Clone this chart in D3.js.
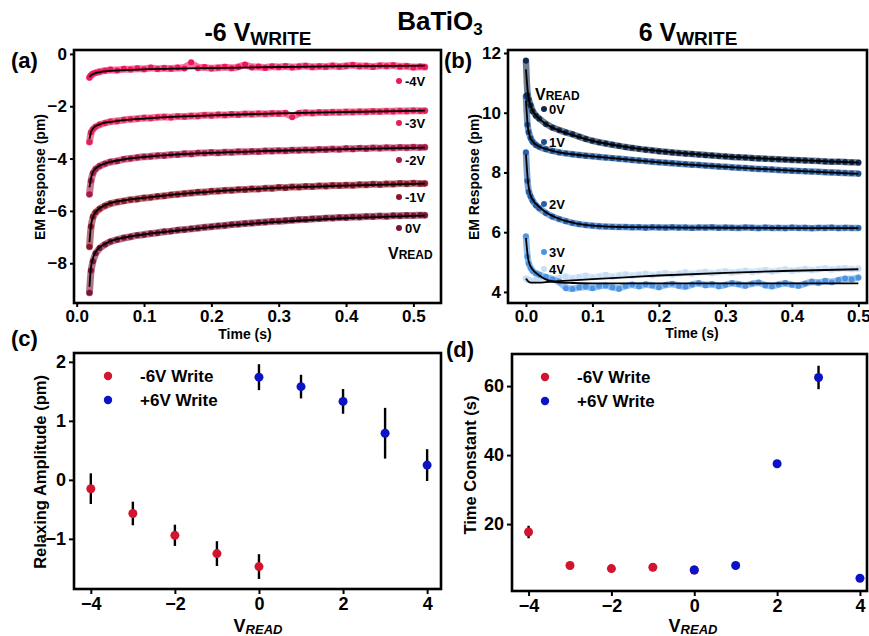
<!DOCTYPE html>
<html lang="en">
<head>
    <meta charset="utf8">
    <script type="text/javascript" src="https://d3js.org/d3.v7.min.js"></script>
    <title>BaTiO3 relaxation</title>
    <style>
        body { margin: 0; background: #fff; }
        text { font-family: "Liberation Sans", Arial, sans-serif; font-weight: bold; fill: #000; }
    </style>
</head>
<body>
<div class="fig"></div>
<script type="text/javascript">
// ---- data, panel (a): -6 V write ----
var tA = [0.019,0.021,0.024,0.028,0.034,0.042,0.05,0.06,0.07,0.08,0.09,0.10,0.11,0.12,0.13,0.14,0.15,0.16,0.17,0.18,0.19,0.20,
    0.21,0.22,0.23,0.24,0.25,0.26,0.27,0.28,0.29,0.30,0.31,0.32,0.33,0.34,0.35,0.36,0.37,0.38,0.39,0.40,0.41,0.42,0.43,0.44,0.45,
    0.46,0.47,0.48,0.49,0.50,0.51,0.517];
var aM4 = [-0.90,-0.82,-0.76,-0.72,-0.68,-0.64,-0.60,-0.63,-0.57,-0.60,-0.55,-0.59,-0.52,-0.58,-0.54,-0.57,-0.52,-0.56,-0.32,-0.55,-0.50,-0.56,
    -0.53,-0.49,-0.55,-0.50,-0.40,-0.52,-0.48,-0.54,-0.47,-0.51,-0.46,-0.52,-0.48,-0.45,-0.51,-0.47,-0.50,-0.44,-0.49,-0.46,-0.42,-0.48,-0.45,-0.50,-0.44,
    -0.47,-0.43,-0.49,-0.46,-0.52,-0.48,-0.50];
var aM3 = [-3.37,-3.00,-2.88,-2.78,-2.70,-2.64,-2.58,-2.57,-2.52,-2.50,-2.48,-2.44,-2.46,-2.42,-2.40,-2.43,-2.38,-2.40,-2.36,-2.38,-2.33,-2.36,
    -2.32,-2.34,-2.30,-2.33,-2.29,-2.31,-2.28,-2.30,-2.27,-2.29,-2.25,-2.42,-2.26,-2.24,-2.27,-2.23,-2.25,-2.22,-2.24,-2.21,-2.23,-2.20,-2.22,-2.19,-2.21,
    -2.18,-2.20,-2.17,-2.19,-2.16,-2.18,-2.17];
var aM2 = [-5.36,-4.85,-4.55,-4.40,-4.28,-4.20,-4.12,-4.10,-4.02,-4.00,-3.96,-3.93,-3.92,-3.88,-3.89,-3.84,-3.85,-3.81,-3.83,-3.78,-3.80,-3.76,
    -3.79,-3.75,-3.77,-3.73,-3.75,-3.72,-3.74,-3.70,-3.72,-3.69,-3.71,-3.67,-3.69,-3.66,-3.68,-3.64,-3.66,-3.63,-3.65,-3.61,-3.64,-3.60,-3.62,-3.59,-3.61,
    -3.58,-3.60,-3.57,-3.59,-3.56,-3.58,-3.57];
var aM1 = [-7.37,-6.60,-6.22,-6.05,-5.92,-5.80,-5.72,-5.66,-5.62,-5.57,-5.55,-5.50,-5.49,-5.44,-5.43,-5.38,-5.37,-5.33,-5.32,-5.28,-5.29,-5.24,
    -5.25,-5.21,-5.22,-5.18,-5.19,-5.15,-5.17,-5.13,-5.14,-5.10,-5.12,-5.08,-5.10,-5.06,-5.08,-5.04,-5.06,-5.02,-5.04,-5.01,-5.03,-4.99,-5.01,-4.97,-5.00,
    -4.96,-4.98,-4.94,-4.97,-4.93,-4.96,-4.95];
var a0 = [-9.13,-8.28,-7.92,-7.62,-7.42,-7.28,-7.17,-7.10,-7.03,-6.99,-6.93,-6.91,-6.86,-6.84,-6.79,-6.78,-6.73,-6.72,-6.68,-6.66,-6.62,-6.61,
    -6.57,-6.56,-6.52,-6.51,-6.48,-6.47,-6.44,-6.43,-6.40,-6.40,-6.37,-6.36,-6.33,-6.33,-6.30,-6.30,-6.27,-6.28,-6.25,-6.26,-6.23,-6.24,-6.21,-6.22,-6.19,
    -6.21,-6.18,-6.19,-6.17,-6.18,-6.16,-6.17];
var fitTA = [0.019,0.021,0.024,0.028,0.034,0.042,0.05,0.07,0.1,0.15,0.2,0.3,0.4,0.517];
var fitAM4 = [-0.88,-0.82,-0.77,-0.73,-0.70,-0.67,-0.65,-0.62,-0.59,-0.56,-0.54,-0.50,-0.47,-0.45];
var fitAM3 = [-3.25,-3.00,-2.86,-2.76,-2.69,-2.63,-2.60,-2.53,-2.47,-2.40,-2.35,-2.27,-2.22,-2.17];
var fitAM2 = [-5.10,-4.78,-4.52,-4.38,-4.27,-4.19,-4.13,-4.03,-3.94,-3.84,-3.78,-3.70,-3.64,-3.58];
var fitAM1 = [-7.20,-6.60,-6.25,-6.05,-5.90,-5.78,-5.70,-5.60,-5.50,-5.36,-5.26,-5.12,-5.03,-4.96];
var fitA0 = [-8.90,-8.20,-7.82,-7.57,-7.39,-7.26,-7.16,-7.02,-6.90,-6.75,-6.62,-6.42,-6.28,-6.18];
var namesA = ["-4V", "-3V", "-2V", "-1V", "0V"];
var colorsA = ["#f0155c", "#e41f5a", "#a8184a", "#8c1628", "#7a1438"];

// ---- data, panel (b): +6 V write ----
var tB = [0,0.002,0.004,0.007,0.01,0.015,0.02,0.03,0.04,0.05,0.06,0.07,0.08,0.09,0.10,0.11,0.12,0.13,0.14,0.15,0.16,0.17,0.18,0.19,0.20,
    0.21,0.22,0.23,0.24,0.25,0.26,0.27,0.28,0.29,0.30,0.31,0.32,0.33,0.34,0.35,0.36,0.37,0.38,0.39,0.40,0.41,0.42,0.43,0.44,0.45,
    0.46,0.47,0.48,0.49,0.50];
var b0 = [11.74,10.60,10.45,10.25,10.05,9.90,9.80,9.62,9.50,9.42,9.34,9.28,9.20,9.12,9.06,9.01,8.97,8.93,8.89,8.85,8.82,8.79,8.76,8.74,8.71,
    8.69,8.67,8.65,8.63,8.62,8.60,8.58,8.57,8.55,8.54,8.52,8.51,8.50,8.48,8.47,8.46,8.45,8.44,8.43,8.42,8.41,8.40,8.39,8.38,8.37,
    8.36,8.36,8.35,8.34,8.33];
var b1 = [10.55,9.60,9.35,9.15,9.02,8.92,8.86,8.78,8.72,8.67,8.64,8.61,8.58,8.56,8.54,8.52,8.50,8.48,8.46,8.44,8.42,8.40,8.38,8.36,8.34,
    8.33,8.31,8.29,8.28,8.26,8.25,8.23,8.22,8.20,8.19,8.17,8.16,8.15,8.13,8.12,8.11,8.10,8.08,8.07,8.06,8.05,8.04,8.03,8.02,8.01,
    8.00,7.99,7.98,7.97,7.96];
var b2 = [8.67,7.72,7.35,7.20,7.05,6.90,6.80,6.64,6.52,6.44,6.37,6.31,6.27,6.24,6.22,6.20,6.19,6.18,6.17,6.18,6.16,6.17,6.15,6.17,6.16,
    6.15,6.17,6.15,6.16,6.14,6.16,6.15,6.17,6.14,6.16,6.15,6.14,6.16,6.15,6.13,6.16,6.14,6.15,6.13,6.16,6.14,6.15,6.13,6.15,6.14,
    6.16,6.13,6.15,6.14,6.14];
var b3 = [5.86,5.19,4.95,4.80,4.70,4.62,4.58,4.50,4.42,4.35,4.12,4.10,4.15,4.18,4.12,4.20,4.22,4.15,4.10,4.20,4.25,4.18,4.26,4.22,4.15,
    4.24,4.28,4.20,4.17,4.25,4.30,4.22,4.27,4.18,4.24,4.30,4.26,4.20,4.28,4.32,4.22,4.18,4.25,4.30,4.24,4.20,4.28,4.35,4.30,4.38,
    4.32,4.40,4.45,4.42,4.48];
var b4 = [4.45,4.40,4.42,4.38,4.36,4.40,4.45,4.50,4.42,4.48,4.52,4.45,4.50,4.55,4.48,4.52,4.58,4.50,4.55,4.60,4.53,4.58,4.62,4.55,4.60,
    4.64,4.57,4.62,4.66,4.60,4.65,4.68,4.62,4.66,4.70,4.64,4.68,4.72,4.66,4.70,4.74,4.68,4.72,4.76,4.70,4.74,4.78,4.72,4.76,4.80,
    4.74,4.78,4.80,4.76,4.78];
var fitTB = [0,0.003,0.006,0.01,0.02,0.03,0.05,0.07,0.1,0.15,0.2,0.3,0.4,0.5];
var fitB0 = [11.45,10.65,10.30,10.08,9.80,9.62,9.40,9.25,9.06,8.86,8.72,8.54,8.42,8.33];
var fitB1 = [10.40,9.50,9.20,9.04,8.87,8.79,8.67,8.61,8.54,8.44,8.34,8.19,8.06,7.95];
var fitB2 = [8.60,7.70,7.30,7.10,6.85,6.67,6.45,6.32,6.22,6.17,6.16,6.15,6.14,6.14];
var fitB3 = [5.80,5.15,4.90,4.75,4.55,4.42,4.32,4.30,4.29,4.29,4.29,4.29,4.29,4.29];
var fitB4 = [4.45,4.36,4.32,4.31,4.31,4.33,4.36,4.39,4.43,4.49,4.55,4.64,4.71,4.76];
var namesB = ["0V", "1V", "2V", "3V", "4V"];
var colorsB = ["#10284a", "#1c4f8e", "#2660ad", "#4d94e2", "#c8def4"];

// ---- data, panels (c) and (d) ----
var vNeg = [-4, -3, -2, -1, 0];
var vPos = [0, 1, 2, 3, 4];
var ampNeg = [-0.15, -0.57, -0.94, -1.25, -1.47];
var ampNegErr = [0.26, 0.20, 0.18, 0.21, 0.21];
var ampPos = [1.74, 1.58, 1.33, 0.79, 0.25];
var ampPosErr = [0.22, 0.20, 0.21, 0.43, 0.27];
var tauNeg = [17.7, 8.0, 7.1, 7.5, 6.7];
var tauNegErr = [1.8, 0, 0, 0, 0];
var tauPos = [6.7, 8.0, 37.5, 62.5, 4.3];
var tauPosErr = [0, 0, 0, 3.4, 0];
var legendNames = ["-6V Write", "+6V Write"];
var redC = "#d2142e", blueC = "#0a14c6";

// ---- svg ----
var width = 869, height = 636;
var svg = d3.select("div.fig").append("svg")
    .attr("width", width).attr("height", height);

// 画一个坐标框
function frame(box, xd, yd, xticks, yticks, xfmt, yfmt, tlen, fs) {
    var x = d3.scaleLinear().domain(xd).range([box.x0, box.x1]);
    var y = d3.scaleLinear().domain(yd).range([box.y1, box.y0]);
    var gx = svg.append("g").attr("transform", "translate(0," + box.y1 + ")")
        .call(d3.axisBottom(x).tickValues(xticks).tickFormat(xfmt).tickSize(tlen).tickPadding(3));
    var gy = svg.append("g").attr("transform", "translate(" + box.x0 + ",0)")
        .call(d3.axisLeft(y).tickValues(yticks).tickFormat(yfmt).tickSize(tlen).tickPadding(3));
    [gx, gy].forEach(function(g) {
        g.select(".domain").remove();
        g.selectAll(".tick line").attr("stroke", "#000").attr("stroke-width", 2);
        g.selectAll(".tick text").attr("font-size", fs).attr("font-family", "Liberation Sans, Arial, sans-serif")
            .attr("font-weight", "bold").attr("fill", "#000");
    });
    svg.append("rect").attr("x", box.x0).attr("y", box.y0)
        .attr("width", box.x1 - box.x0).attr("height", box.y1 - box.y0)
        .attr("fill", "none").attr("stroke", "#000").attr("stroke-width", 2.6);
    return {x: x, y: y};
}

function label(x, y, parts, anchor, rot) {
    var t = svg.append("text").attr("x", x).attr("y", y).attr("text-anchor", anchor || "start");
    if (rot) t.attr("transform", "rotate(-90," + x + "," + y + ")");
    parts.forEach(function(p) {
        var s = t.append("tspan").text(p.t).attr("font-size", p.s);
        if (p.dy) s.attr("dy", p.dy);
        if (p.i) s.attr("font-style", "italic");
    });
    return t;
}

function traces(sc, ts, series, fitT, fits, colors, r, bw) {
    var line = d3.line().curve(d3.curveBasis)
        .x(function(d) { return sc.x(d[0]); }).y(function(d) { return sc.y(d[1]); });
    var fitLine = d3.line().curve(d3.curveMonotoneX)
        .x(function(d) { return sc.x(d[0]); }).y(function(d) { return sc.y(d[1]); });
    series.forEach(function(vals, i) {
        var pts = ts.map(function(t, k) { return [t, vals[k]]; });
        var g = svg.append("g");
        g.append("path").datum(pts).attr("d", line).attr("fill", "none")
            .attr("stroke", colors[i]).attr("stroke-width", bw).attr("stroke-opacity", 0.6)
            .attr("stroke-linejoin", "round").attr("stroke-linecap", "round");
        g.selectAll("circle").data(pts).enter().append("circle")
            .attr("cx", function(d) { return sc.x(d[0]); })
            .attr("cy", function(d) { return sc.y(d[1]); })
            .attr("r", r).attr("fill", colors[i]);
    });
    fits.forEach(function(vals) {
        var pts = fitT.map(function(t, k) { return [t, vals[k]]; });
        svg.append("path").datum(pts).attr("d", fitLine).attr("fill", "none")
            .attr("stroke", "#000").attr("stroke-width", 1.8);
    });
}

function scatter(sc, xs, ys, errs, color) {
    xs.forEach(function(v, i) {
        if (errs[i] > 0) {
            svg.append("line").attr("x1", sc.x(v)).attr("x2", sc.x(v))
                .attr("y1", sc.y(ys[i] - errs[i])).attr("y2", sc.y(ys[i] + errs[i]))
                .attr("stroke", "#000").attr("stroke-width", 2.4);
        }
    });
    svg.append("g").selectAll("circle").data(xs).enter().append("circle")
        .attr("cx", function(d) { return sc.x(d); })
        .attr("cy", function(d, i) { return sc.y(ys[i]); })
        .attr("r", 4.5).attr("fill", color);
}

var f1 = d3.format(".1f"), fd = d3.format("d");

// (a)
var sa = frame({x0: 74, x1: 441, y0: 50, y1: 303}, [-0.004, 0.541], [-9.52, 0.15],
    [0, 0.1, 0.2, 0.3, 0.4, 0.5], [0, -2, -4, -6, -8], f1, fd, 4, 17);
traces(sa, tA, [aM4, aM3, aM2, aM1, a0], fitTA, [fitAM4, fitAM3, fitAM2, fitAM1, fitA0], colorsA, 3, 7);

// (b)
var sb = frame({x0: 508, x1: 867, y0: 50, y1: 303}, [-0.027, 0.513], [3.63, 12.1],
    [0, 0.1, 0.2, 0.3, 0.4, 0.5], [4, 6, 8, 10, 12], f1, fd, 4, 17);
traces(sb, tB, [b4, b3, b2, b1, b0], fitTB, [fitB0, fitB1, fitB2, fitB3, fitB4],
    colorsB.slice().reverse(), 2.9, 6.5);

// (c)
var sc = frame({x0: 74, x1: 441, y0: 353, y1: 589}, [-4.4, 4.33], [-1.85, 2.15],
    [-4, -2, 0, 2, 4], [-1, 0, 1, 2], fd, fd, 5, 18);
scatter(sc, vNeg, ampNeg, ampNegErr, redC);
scatter(sc, vPos, ampPos, ampPosErr, blueC);

// (d)
var sd = frame({x0: 512, x1: 867, y0: 354, y1: 591}, [-4.4, 4.17], [0.6, 69.3],
    [-4, -2, 0, 2, 4], [20, 40, 60], fd, fd, 5, 18);
scatter(sd, vNeg, tauNeg, tauNegErr, redC);
scatter(sd, vPos, tauPos, tauPosErr, blueC);

// 图例 (a)
var legA = [81, 123, 160, 197, 228];
namesA.forEach(function(n, i) {
    svg.append("circle").attr("cx", 399).attr("cy", legA[i]).attr("r", 3).attr("fill", colorsA[i]);
    label(405, legA[i] + 5, [{t: n, s: 13}]);
});
label(388, 259, [{t: "V", s: 16}, {t: "READ", s: 12}]);

// 图例 (b)
var legB = [109, 142, 204, 252, 269];
namesB.forEach(function(n, i) {
    svg.append("circle").attr("cx", 544).attr("cy", legB[i]).attr("r", 3).attr("fill", colorsB[i]);
    label(549, legB[i] + 5, [{t: n, s: 13}]);
});
label(535, 100, [{t: "V", s: 16}, {t: "READ", s: 12}]);

// 图例 (c), (d)
[[108, 140, 376], [545, 577, 377]].forEach(function(p) {
    [redC, blueC].forEach(function(c, i) {
        svg.append("circle").attr("cx", p[0]).attr("cy", p[2] + i * 24).attr("r", 4.2).attr("fill", c);
        label(p[1], p[2] + i * 24 + 6, [{t: legendNames[i], s: 17}]);
    });
});

// 标题与轴标签
label(258, 41, [{t: "-6 V", s: 25}, {t: "WRITE", s: 19, dy: 4}], "middle");
label(688, 41, [{t: "6 V", s: 25}, {t: "WRITE", s: 19, dy: 4}], "middle");
label(440, 30, [{t: "BaTiO", s: 26}, {t: "3", s: 17, dy: 5}], "middle");
label(11, 68, [{t: "(a)", s: 22}]);
label(444, 68, [{t: "(b)", s: 22}]);
label(11, 346, [{t: "(c)", s: 22}]);
label(446, 357, [{t: "(d)", s: 22}]);

label(45, 177, [{t: "EM Response (pm)", s: 14}], "middle", true);
label(479, 177, [{t: "EM Response (pm)", s: 14}], "middle", true);
label(245, 339, [{t: "Time (s)", s: 14}], "middle");
label(692, 338, [{t: "Time (s)", s: 14}], "middle");
label(46, 472, [{t: "Relaxing Amplitude (pm)", s: 16.5}], "middle", true);
label(476, 465, [{t: "Time Constant (s)", s: 16.5}], "middle", true);
label(258, 632, [{t: "V", s: 18}, {t: "READ", s: 13, i: true, dy: 2}], "middle");
label(693, 632, [{t: "V", s: 18}, {t: "READ", s: 13, i: true, dy: 2}], "middle");
</script>
</body>
</html>
